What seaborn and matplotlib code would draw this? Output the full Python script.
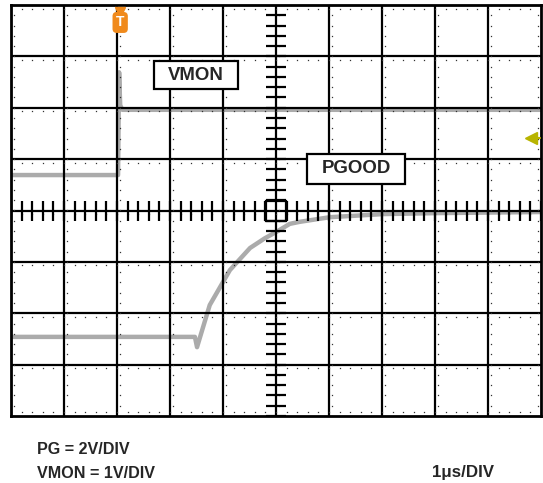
import numpy as np
import pandas as pd
import seaborn as sns
import matplotlib.pyplot as plt
from matplotlib.patches import Rectangle

# scope readings, in divisions (x: 1us/div, y: centre = 0)
vmon_t = [-5.0, -2.98, -2.96, -2.94, -2.90, 5.0]
vmon_v = [0.69, 0.69, 2.69, 2.05, 1.96, 1.96]

pgood_t = [-5.0, -1.53, -1.49, -1.25, -0.87, -0.49, -0.21, 0.0, 0.26, 0.45, 1.02, 2.02, 3.09, 5.0]
pgood_v = [-2.46, -2.46, -2.66, -1.84, -1.16, -0.73, -0.54, -0.42, -0.26, -0.22, -0.13, -0.07, -0.05, -0.03]

trig_t = -2.94
trig_level = 1.41

scale_lines = ['PG = 2V/DIV', 'VMON = 1V/DIV']
time_label = '1\u03bcs/DIV'

sns.set_style('white')
plt.rcParams['font.family'] = ['Liberation Sans', 'DejaVu Sans']

fig = plt.figure(figsize=(5.43, 4.83), dpi=100)
ax = fig.add_axes([11 / 543, 67 / 483, 530 / 543, 411 / 483])
ax.set_xlim(-5, 5)
ax.set_ylim(-4, 4)

trace = pd.concat([
    pd.DataFrame({'t': vmon_t, 'v': vmon_v, 'ch': 'VMON'}),
    pd.DataFrame({'t': pgood_t, 'v': pgood_v, 'ch': 'PGOOD'}),
])
sns.lineplot(data=trace, x='t', y='v', units='ch', estimator=None, sort=False,
             color='#ababab', lw=3.2, ax=ax, zorder=2, legend=False)

# graticule
for gx in range(-4, 5):
    ax.axvline(gx, color='k', lw=1.6, zorder=3)
for gy in range(-3, 4):
    ax.axhline(gy, color='k', lw=1.6, zorder=3)

# faint minor dots next to each graticule line
fine_x = np.arange(-5, 5.01, 0.2)
fine_y = np.arange(-4, 4.01, 0.2)
dot = dict(ls='none', marker='s', ms=0.9, mew=0, color='#333333', zorder=3)
for gy in range(-4, 5):
    off = 0.07 if gy == -4 else -0.07
    ax.plot(fine_x, np.full_like(fine_x, gy + off), **dot)
for gx in range(-5, 6):
    off = -0.05 if gx == 5 else 0.05
    ax.plot(np.full_like(fine_y, gx + off), fine_y, **dot)

# centre-line ticks
tx = fine_x[np.abs(fine_x) > 0.1]
ty = fine_y[np.abs(fine_y) > 0.1]
ax.plot(tx, np.zeros_like(tx), ls='none', marker='|', ms=14, mew=1.6, color='k', zorder=3)
ax.plot(np.zeros_like(ty), ty, ls='none', marker='_', ms=15, mew=1.6, color='k', zorder=3)
ax.plot(0, 0, marker='s', ms=14.5, mfc='none', mec='k', mew=1.6, zorder=3)

for s in ax.spines.values():
    s.set_visible(True)
    s.set_linewidth(2)
    s.set_color('k')
    s.set_zorder(5)
ax.set_xticks([])
ax.set_yticks([])
ax.set_xlabel('')
ax.set_ylabel('')

# trigger markers
ax.plot(trig_t, 3.87, marker='v', ms=7, color='#f08a1c', zorder=6)
ax.text(trig_t, 3.66, 'T', color='white', fontsize=10, fontweight='bold', ha='center', va='center',
        zorder=6, bbox=dict(boxstyle='round,pad=0.25,rounding_size=0.3', fc='#f08a1c', ec='none'))
ax.plot([4.8, 4.98], [trig_level, trig_level], color='#b8b400', lw=1.5, zorder=6)
ax.plot(4.82, trig_level, marker='<', ms=8, color='#b8b400', zorder=6)

# channel labels
labels = {'VMON': (-2.30, 2.36, 1.58, 0.55), 'PGOOD': (0.585, 0.516, 1.85, 0.585)}
for name, (x0, y0, w, h) in labels.items():
    ax.add_patch(Rectangle((x0, y0), w, h, fc='white', ec='k', lw=1.6, zorder=4))
    ax.text(x0 + w / 2, y0 + h / 2, name, fontsize=13.4, fontweight='bold', ha='center', va='center', zorder=5)

fig.text(37 / 543, 1 - 449 / 483, scale_lines[0], fontsize=11.6, fontweight='bold', va='center')
fig.text(37 / 543, 1 - 473 / 483, scale_lines[1], fontsize=11.6, fontweight='bold', va='center')
fig.text(432 / 543, 1 - 473 / 483, time_label, fontsize=12.2, fontweight='bold', va='center')

fig.savefig('out.png', dpi=100)
